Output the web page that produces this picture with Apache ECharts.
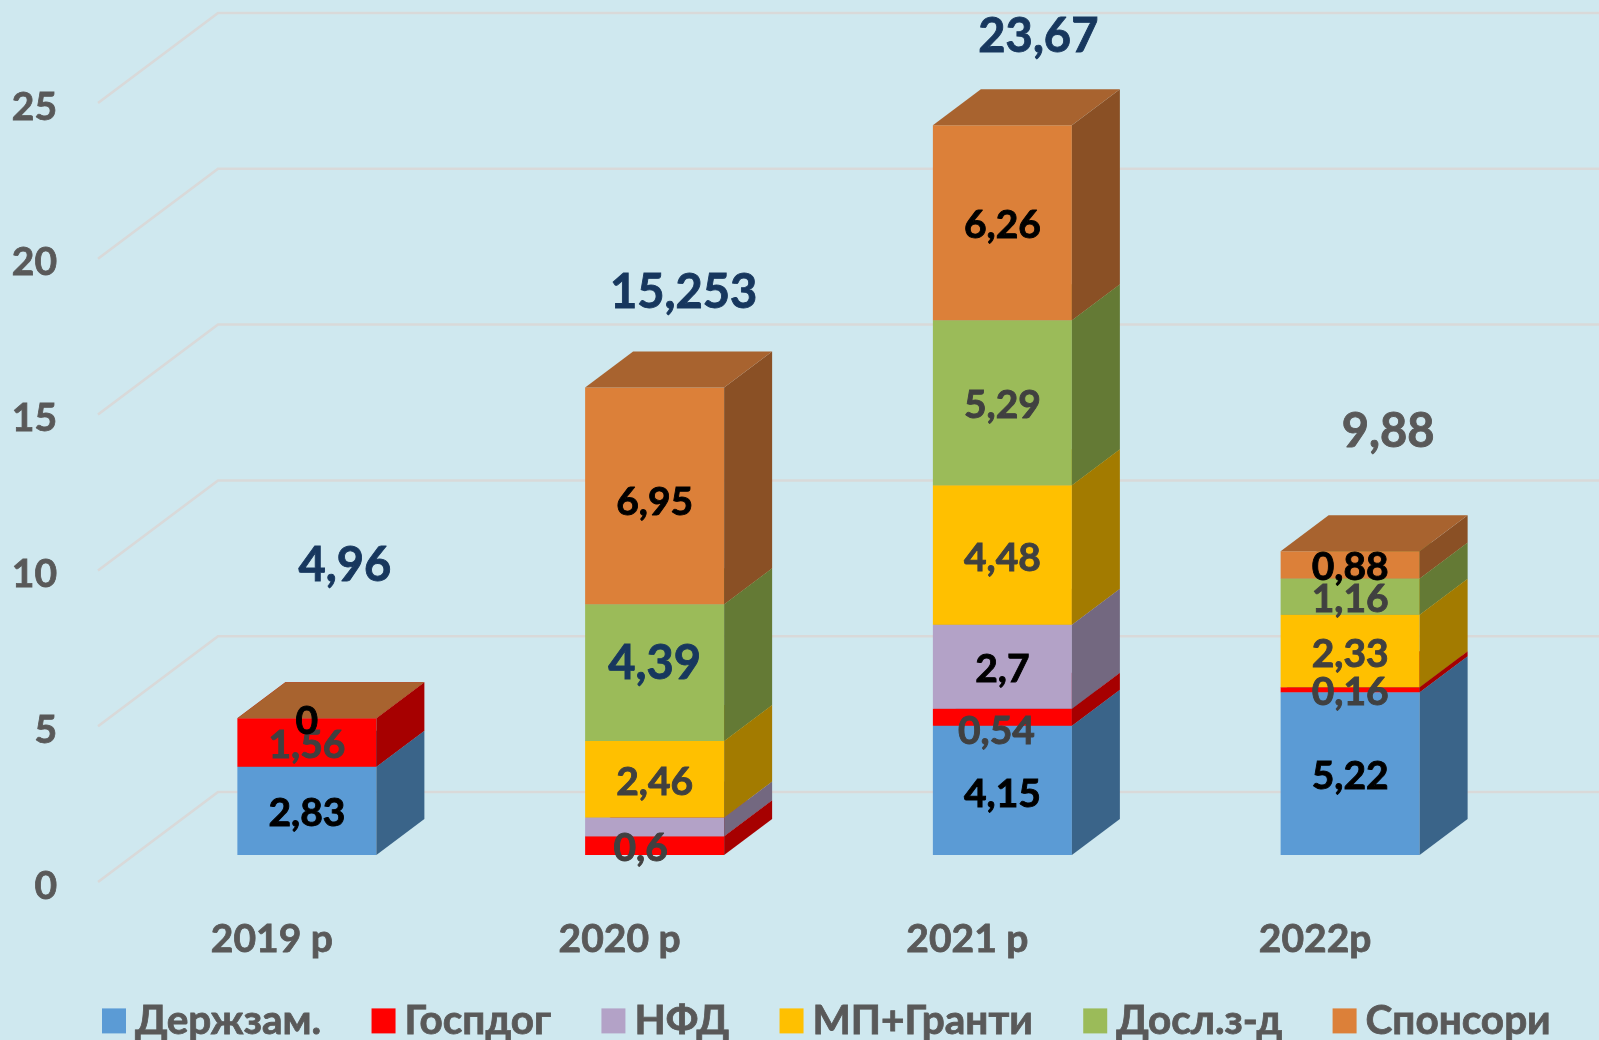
<!DOCTYPE html>
<html>
<head>
<meta charset="utf-8">
<style>html,body{margin:0;padding:0;background:#cfe8ef}#c{width:1599px;height:1040px}</style>
<script src="https://cdn.jsdelivr.net/npm/echarts@6/dist/echarts.min.js"></script>
</head>
<body>
<div id="c"></div>
<script>
const categories = ['2019 р', '2020 р', '2021 р', '2022р'];
const yTicks = [0, 5, 10, 15, 20, 25];
const seriesNames = ['Держзам.', 'Госпдог', 'НФД', 'МП+Гранти', 'Досл.з-д', 'Спонсори'];
const derzhzam = [2.83, null, 4.15, 5.22];
const gospdog = [1.56, 0.6, 0.54, 0.16];
const nfd = [null, 0.6, 2.7, null];
const mpGranty = [null, 2.46, 4.48, 2.33];
const doslZd = [null, 4.39, 5.29, 1.16];
const sponsory = [0, 6.95, 6.26, 0.88];
const totals = [4.96, 15.253, 23.67, 9.88];
const seriesValues = [derzhzam, gospdog, nfd, mpGranty, doslZd, sponsory];

const BLACK = '#000000', DARK = '#404040', NAVY = '#17375e', GREY = '#595959';
const faces = [
  ['#5b9bd5', '#3a6489', '#47779f'],
  ['#ff0000', '#a60000', '#c80000'],
  ['#b3a2c7', '#736880', '#8f82a0'],
  ['#ffc000', '#a37b00', '#c79600'],
  ['#9bbb59', '#647a35', '#7d9646'],
  ['#dc8039', '#8a5025', '#a8632f']
];
// label ink per series (rows) and year (columns)
const inks = [
  [BLACK, BLACK, BLACK, BLACK],
  [DARK, DARK, DARK, DARK],
  [BLACK, BLACK, BLACK, BLACK],
  [DARK, DARK, DARK, DARK],
  [DARK, NAVY, DARK, DARK],
  [BLACK, BLACK, BLACK, BLACK]
];
const hiddenLabels = { '2|1': true };
const labelNudgeY = { '4|1': -9, '5|1': 7, '0|0': 3, '0|2': 4, '0|3': 3, '1|2': 14 };
const labelNudgeX = { '1|1': -14, '1|2': -6 };
const bigLabels = { '4|1': 47 };
const totalInk = [NAVY, NAVY, NAVY, GREY];
const totalShift = [[73, -135], [64, -87], [71, -81], [73, -115]];

const BAR_W = 139, BAR_DX = 35, PLANE_DY = -27, DEPTH_X = 48, DEPTH_Y = 36;
const WALL_DX = 120, WALL_DY = 90;
const FONT = 'Lato';

function fmt(v) { return String(v).replace('.', ','); }

function stackRows(si) {
  return categories.map((c, ci) => {
    let base = 0;
    for (let k = 0; k < si; k++) base += seriesValues[k][ci] || 0;
    return [ci, base, seriesValues[si][ci]];
  }).filter(r => r[2] !== null);
}

function renderFace(si) {
  return function (params, api) {
    const ci = api.value(0), base = api.value(1), val = api.value(2);
    const p0 = api.coord([ci, base]), p1 = api.coord([ci, base + val]);
    const xl = p0[0] + BAR_DX - BAR_W / 2, xr = xl + BAR_W;
    const yb = p0[1] + PLANE_DY, yt = p1[1] + PLANE_DY;
    const c = faces[si];
    return {
      type: 'group',
      children: [
        { type: 'polygon', shape: { points: [[xl, yb], [xr, yb], [xr, yt], [xl, yt]] }, style: { fill: c[0] } },
        { type: 'polygon', shape: { points: [[xr, yb], [xr + DEPTH_X, yb - DEPTH_Y], [xr + DEPTH_X, yt - DEPTH_Y], [xr, yt]] }, style: { fill: c[1] } },
        { type: 'polygon', shape: { points: [[xl, yt], [xr, yt], [xr + DEPTH_X, yt - DEPTH_Y], [xl + DEPTH_X, yt - DEPTH_Y]] }, style: { fill: c[2] } }
      ]
    };
  };
}

const faceSeries = seriesNames.map((name, si) => ({
  type: 'custom', name, z: 3, silent: true,
  coordinateSystem: 'cartesian2d',
  itemStyle: { color: faces[si][0] },
  encode: { x: 0, y: [1, 2] },
  renderItem: renderFace(si),
  data: stackRows(si)
}));

const wallSeries = {
  type: 'custom', name: 'walls', z: 1, silent: true,
  encode: { x: 1, y: 0 },
  renderItem(params, api) {
    const y = api.coord([0, api.value(0)])[1];
    const x0 = params.coordSys.x;
    return {
      type: 'polyline',
      shape: { points: [[x0, y], [x0 + WALL_DX, y - WALL_DY], [api.getWidth(), y - WALL_DY]] },
      style: { stroke: '#d9d9d9', lineWidth: 2.5, fill: 'none' }
    };
  },
  data: yTicks.map(t => [t, 0])
};

const segLabelRows = [];
seriesNames.forEach((n, si) => {
  stackRows(si).forEach(r => {
    if (!hiddenLabels[si + '|' + r[0]]) segLabelRows.push([r[0], r[1] + r[2] / 2, si, r[2]]);
  });
});
const labelNudgeDefaultY = 3;
const segLabelSeries = {
  type: 'custom', name: 'labels', z: 6, silent: true,
  encode: { x: 0, y: 1 },
  renderItem(params, api) {
    const ci = api.value(0), si = api.value(2);
    const p = api.coord([ci, api.value(1)]);
    const key = si + '|' + ci;
    const ny = labelNudgeY[key] !== undefined ? labelNudgeY[key] : labelNudgeDefaultY;
    return {
      type: 'text',
      style: {
        x: p[0] + BAR_DX + (labelNudgeX[key] || 0), y: p[1] + PLANE_DY + ny,
        text: fmt(api.value(3)), fill: inks[si][ci],
        stroke: inks[si][ci], lineWidth: 0.9,
        fontFamily: FONT, fontWeight: 'bold', fontSize: bigLabels[key] || 39,
        align: 'center', verticalAlign: 'middle'
      }
    };
  },
  data: segLabelRows
};

const totalSeries = {
  type: 'custom', name: 'totals', z: 6, silent: true,
  encode: { x: 0, y: 1 },
  renderItem(params, api) {
    const ci = api.value(0);
    const p = api.coord([ci, api.value(1)]);
    return {
      type: 'text',
      style: {
        x: p[0] + totalShift[ci][0], y: p[1] + PLANE_DY + totalShift[ci][1],
        text: fmt(api.value(1)), fill: totalInk[ci],
        stroke: totalInk[ci], lineWidth: 0.9,
        fontFamily: FONT, fontWeight: 'bold', fontSize: 47,
        align: 'center', verticalAlign: 'middle'
      }
    };
  },
  data: totals.map((t, i) => [i, t])
};

const chart = echarts.init(document.getElementById('c'));
chart.setOption({
  animation: false,
  backgroundColor: '#cfe8ef',
  textStyle: { fontFamily: FONT },
  grid: { left: 98, right: 110, top: 103, bottom: 158, containLabel: false },
  legend: {
    data: seriesNames, left: 102, top: 1000, padding: 0, icon: 'rect',
    itemWidth: 24, itemHeight: 25, itemGap: 50, selectedMode: false,
    textStyle: { fontFamily: FONT, fontWeight: 'bold', fontSize: 40.5, color: GREY, padding: [0, 0, 0, 4], textBorderColor: GREY, textBorderWidth: 0.8 }
  },
  xAxis: {
    type: 'category', data: categories,
    axisLine: { show: false }, axisTick: { show: false }, splitLine: { show: false },
    axisLabel: { fontFamily: FONT, fontWeight: 'bold', fontSize: 39, color: GREY, margin: 38, textBorderColor: GREY, textBorderWidth: 0.8 }
  },
  yAxis: {
    type: 'value', min: 0, max: 25, interval: 5,
    axisLine: { show: false }, axisTick: { show: false }, splitLine: { show: false },
    axisLabel: {
      margin: 41,
      formatter: '{n|{value}}',
      rich: { n: { fontFamily: FONT, fontWeight: 'bold', fontSize: 39, color: GREY, padding: [8, 0, 0, 0], textBorderColor: GREY, textBorderWidth: 0.8 } }
    }
  },
  series: [wallSeries, ...faceSeries, segLabelSeries, totalSeries]
});
</script>
</body>
</html>
